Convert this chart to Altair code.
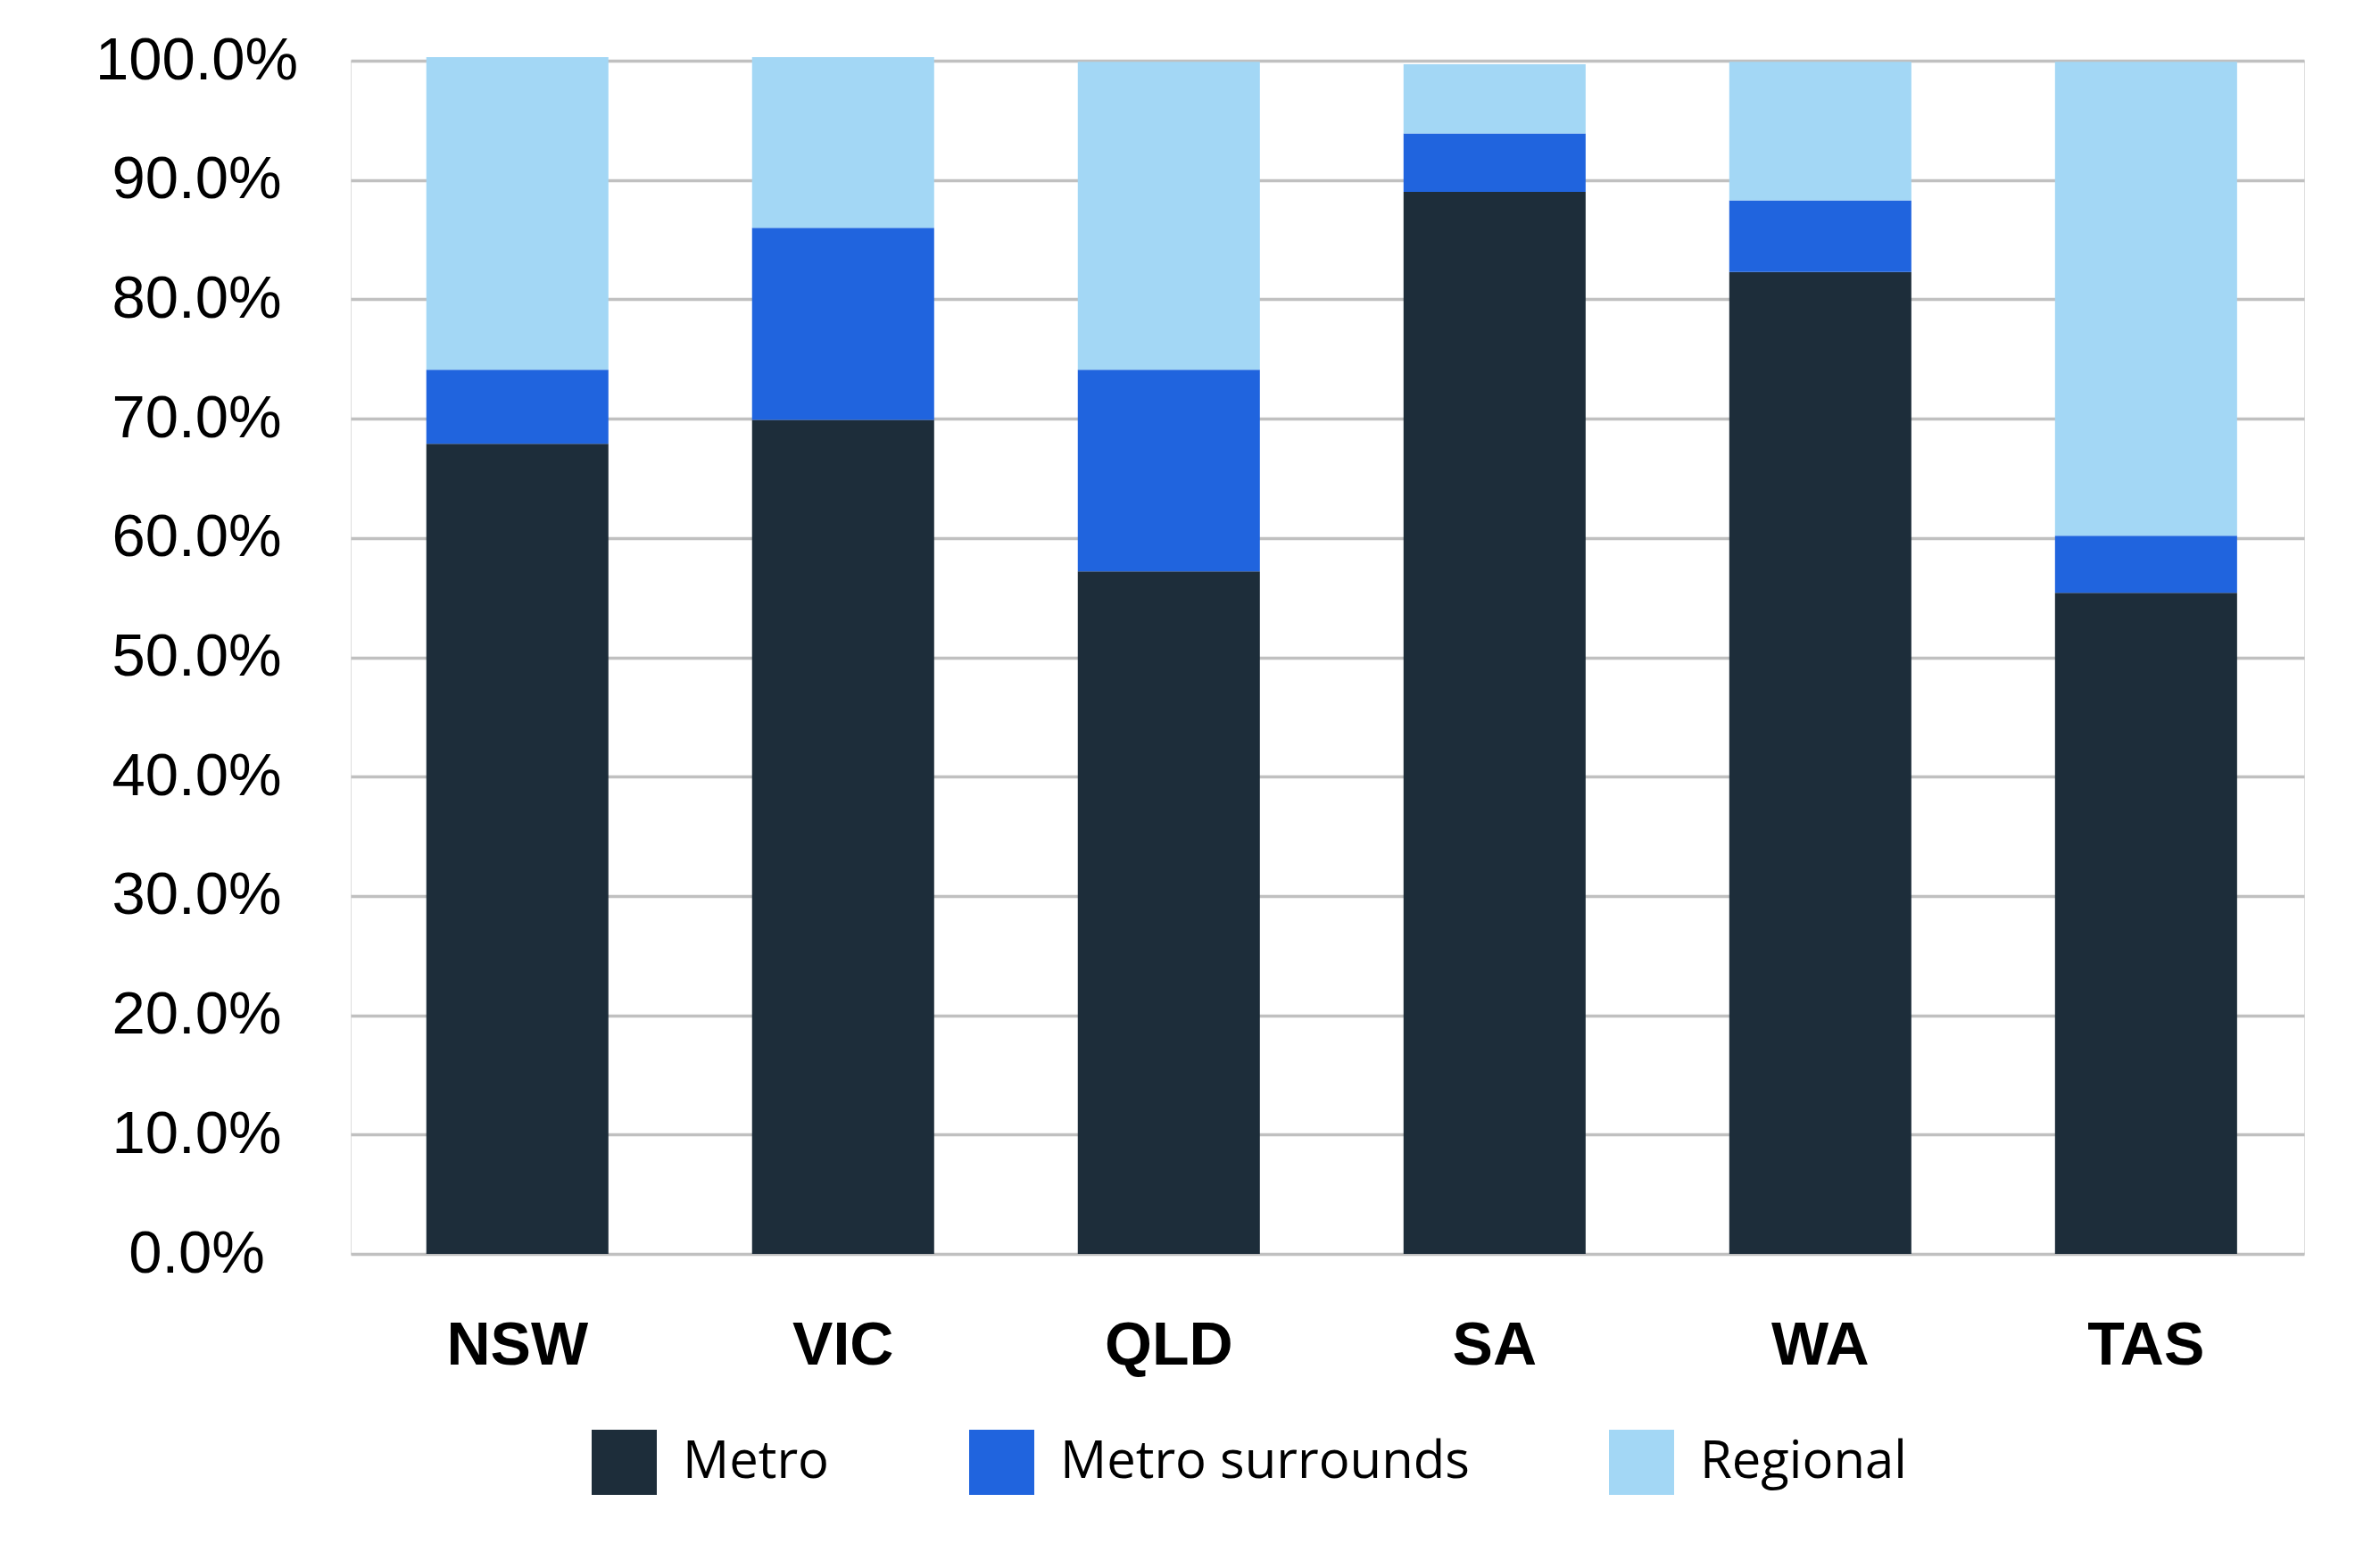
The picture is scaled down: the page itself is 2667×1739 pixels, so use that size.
import altair as alt
import pandas as pd

# Share of each state's total by area type (percent)
states = ["NSW", "VIC", "QLD", "SA", "WA", "TAS"]
areas = ["Metro", "Metro surrounds", "Regional"]
metro = [67.9, 69.9, 57.2, 89.0, 82.3, 55.4]
metro_surrounds = [6.2, 16.1, 16.9, 4.9, 6.0, 4.8]
regional = [26.2, 14.3, 25.8, 5.8, 11.6, 39.7]
area_colors = ["#1D2D3A", "#2064DE", "#A3D7F5"]

rows = []
for i, st in enumerate(states):
    for k, (area, vals) in enumerate(zip(areas, [metro, metro_surrounds, regional])):
        rows.append({"state": st, "area": area, "share": vals[i] / 100.0, "stack_order": k})
df = pd.DataFrame(rows)

chart = (
    alt.Chart(df)
    .mark_bar()
    .encode(
        x=alt.X(
            "state:N",
            sort=states,
            title=None,
            scale=alt.Scale(paddingInner=0.441, paddingOuter=0.219, align=0.53),
            axis=alt.Axis(
                labelAngle=0,
                labelFont="Liberation Sans",
                labelFontSize=68,
                labelFontWeight="bold",
                labelColor="#000000",
                labelPadding=69,
                labelBaseline="top",
                domain=False,
                ticks=False,
                tickSize=0,
                grid=False,
            ),
        ),
        y=alt.Y(
            "share:Q",
            stack="zero",
            title=None,
            scale=alt.Scale(domain=[0, 1], nice=False),
            axis=alt.Axis(
                values=[i / 10 for i in range(11)],
                format=".1%",
                labelFont="Liberation Sans",
                labelFontSize=67,
                labelColor="#000000",
                labelAlign="center",
                labelBaseline="middle",
                labelPadding=173,
                labelLimit=1000,
                domain=False,
                ticks=False,
                tickSize=0,
                grid=True,
                gridColor="#C0C0C0",
                gridWidth=3.5,
            ),
        ),
        color=alt.Color(
            "area:N",
            sort=areas,
            scale=alt.Scale(domain=areas, range=area_colors),
            legend=alt.Legend(
                title=None,
                orient="none",
                direction="horizontal",
                legendX=270,
                legendY=1534,
                symbolType="square",
                symbolSize=5329,
                symbolStrokeWidth=0,
                labelFont="Open Sans",
                labelFontSize=58,
                labelColor="#000000",
                labelOffset=29,
                columnPadding=156,
                labelLimit=1000,
            ),
        ),
        order=alt.Order("stack_order:Q", sort="ascending"),
    )
    .properties(
        width=2189,
        height=1337,
        autosize=alt.AutoSizeParams(type="none"),
        padding={"left": 393, "top": 68, "right": 85, "bottom": 334},
    )
    .configure_view(stroke=None)
    .configure(background="#FFFFFF")
)

chart.save("out.html", embed_options={"renderer": "svg", "actions": False})
